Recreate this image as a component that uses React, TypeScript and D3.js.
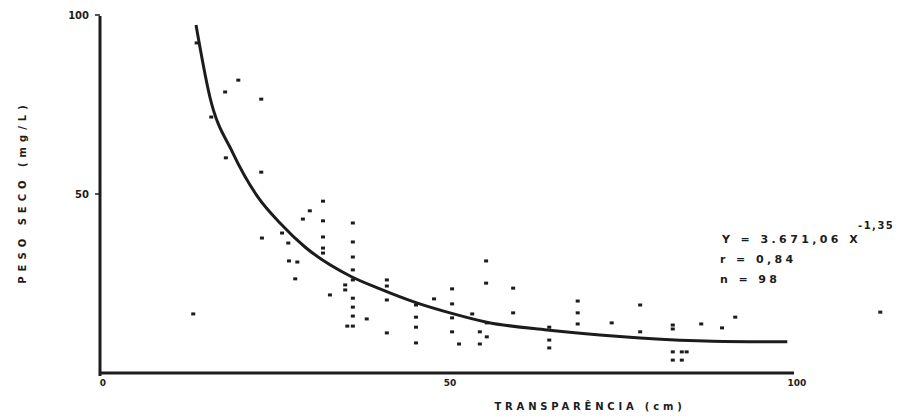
import { useRef, useEffect } from 'react';
import * as d3 from 'd3';

const WIDTH = 904;
const HEIGHT = 420;

// transparência (cm) vs peso seco (mg/L)
const transparencia = [
  13.5, 19.5, 17.6, 22.8, 15.6, 17.7, 22.8, 22.9, 26.7, 25.8, 26.8, 28.0, 27.7, 13.0,
  31.7, 29.8, 28.8, 31.7, 31.7, 31.7, 31.7, 36.0, 36.0, 36.0, 36.0, 36.0, 34.9, 34.9,
  32.7, 36.0, 36.0, 36.0, 35.2, 36.0, 38.0, 40.9, 40.9, 40.9, 40.9, 45.1, 45.1, 45.1,
  45.1, 47.7, 50.3, 50.3, 50.3, 50.3, 51.3, 53.2, 54.3, 54.3, 55.3, 55.2, 55.2, 55.3,
  59.1, 59.1, 64.3, 64.3, 64.3, 68.4, 68.4, 68.4, 73.3, 77.4, 77.4, 82.1, 82.1, 86.2,
  82.1, 83.4, 84.1, 82.1, 83.4, 89.2, 91.1, 112.0,
];
const pesoSeco = [
  92.2, 81.8, 78.5, 76.5, 71.5, 60.1, 56.1, 37.7, 36.3, 39.1, 31.3, 31.0, 26.3, 16.5,
  48.0, 45.3, 43.0, 42.5, 38.0, 34.9, 33.5, 41.9, 36.6, 32.4, 28.8, 26.0, 24.6, 23.2,
  21.8, 20.9, 18.4, 15.9, 13.1, 13.1, 15.1, 26.0, 24.3, 20.4, 11.2, 19.0, 15.6, 12.8,
  8.4, 20.7, 23.5, 19.3, 15.4, 11.5, 8.1, 16.5, 11.5, 8.1, 10.1, 31.3, 25.1, 14.0,
  23.7, 16.8, 12.8, 9.2, 7.0, 20.1, 16.8, 13.7, 14.0, 19.0, 11.5, 13.4, 12.3, 13.7,
  5.9, 5.9, 5.9, 3.6, 3.6, 12.6, 15.6, 17.0,
];

// fitted curve Y = 3.671,06 X^-1,35
const curveX = [13.4, 15.4, 18.7, 22.3, 25.5, 29.1, 35.6, 39.9, 45.2, 50.0, 55.3, 64.0, 71.6, 77.4, 87.9, 98.6];
const curveY = [97.2, 77.1, 61.5, 49.2, 41.9, 35.2, 27.1, 23.5, 19.6, 16.8, 14.2, 12.0, 10.6, 9.8, 8.9, 8.7];

const xTicks = [0, 50, 100];
const yTicks = [50, 100];
const legendLines = ['r = 0,84', 'n = 98'];

const INK = '#1c1c1c';
const FONT = '"DejaVu Sans", sans-serif';

export default function App() {
  const svgRef = useRef<SVGSVGElement>(null);

  useEffect(() => {
    if (!svgRef.current) return;
    const svg = d3.select(svgRef.current);
    svg.selectAll('*').remove();

    const x = d3.scaleLinear().domain([0, 100]).range([103, 797]);
    const y = d3.scaleLinear().domain([0, 100]).range([373, 15]);

    svg.append('rect').attr('width', WIDTH).attr('height', HEIGHT).attr('fill', '#fff');

    // ── Axes ────────────────────────────────────────────────────────────────
    svg.append('line')
      .attr('x1', x(0) - 3).attr('x2', x(0) - 3)
      .attr('y1', y(100) + 1).attr('y2', y(0) + 3)
      .attr('stroke', INK).attr('stroke-width', 3);

    svg.append('line')
      .attr('x1', x(0) - 3).attr('x2', x(100) - 3)
      .attr('y1', y(0)).attr('y2', y(0))
      .attr('stroke', INK).attr('stroke-width', 3);

    // small y ticks
    svg.append('g')
      .selectAll('line')
      .data(yTicks)
      .join('line')
      .attr('x1', x(0) - 8).attr('x2', x(0) - 3)
      .attr('y1', (d) => y(d)).attr('y2', (d) => y(d))
      .attr('stroke', INK).attr('stroke-width', 1.5);

    svg.append('g')
      .selectAll('text')
      .data(yTicks)
      .join('text')
      .attr('x', x(0) - 14)
      .attr('y', (d) => y(d) + 4)
      .attr('text-anchor', 'end')
      .attr('font-family', FONT).attr('font-weight', 'bold').attr('font-size', 10)
      .attr('fill', INK)
      .text((d) => `${d}`);

    svg.append('g')
      .selectAll('text')
      .data(xTicks)
      .join('text')
      .attr('x', (d) => x(d))
      .attr('y', y(0) + 13)
      .attr('text-anchor', 'middle')
      .attr('font-family', FONT).attr('font-weight', 'bold').attr('font-size', 9)
      .attr('fill', INK)
      .text((d) => `${d}`);

    // axis titles
    svg.append('text')
      .attr('transform', `translate(26,192) rotate(-90)`)
      .attr('text-anchor', 'middle')
      .attr('font-family', FONT).attr('font-weight', 'bold').attr('font-size', 10)
      .attr('letter-spacing', 5)
      .attr('fill', INK)
      .text('PESO  SECO  (mg/L)');

    svg.append('text')
      .attr('x', 590).attr('y', 410)
      .attr('text-anchor', 'middle')
      .attr('font-family', FONT).attr('font-weight', 'bold').attr('font-size', 10)
      .attr('letter-spacing', 3.8)
      .attr('fill', INK)
      .text('TRANSPARÊNCIA  (cm)');

    // ── Fitted curve ────────────────────────────────────────────────────────
    const line = d3.line<number>()
      .x((_, i) => x(curveX[i]))
      .y((_, i) => y(curveY[i]))
      .curve(d3.curveMonotoneX);

    svg.append('path')
      .datum(curveX)
      .attr('fill', 'none')
      .attr('stroke', INK)
      .attr('stroke-width', 3)
      .attr('d', line);

    // ── Points ──────────────────────────────────────────────────────────────
    svg.append('g')
      .selectAll('rect')
      .data(transparencia)
      .join('rect')
      .attr('x', (d) => x(d) - 2)
      .attr('y', (_, i) => y(pesoSeco[i]) - 1.5)
      .attr('width', 4)
      .attr('height', 3)
      .attr('fill', INK);

    // ── Equation ────────────────────────────────────────────────────────────
    const eq = svg.append('g')
      .attr('font-family', FONT).attr('font-weight', 'bold')
      .attr('fill', INK);

    eq.append('text')
      .attr('x', 722).attr('y', 243)
      .attr('font-size', 11).attr('letter-spacing', 3.4)
      .text('Y = 3.671,06 X');
    eq.append('text')
      .attr('x', 858).attr('y', 229)
      .attr('font-size', 10).attr('letter-spacing', 1.5)
      .text('-1,35');

    eq.selectAll('text.l')
      .data(legendLines)
      .join('text')
      .attr('class', 'l')
      .attr('x', 720)
      .attr('y', (_, i) => 263 + i * 20)
      .attr('font-size', 11).attr('letter-spacing', 3.4)
      .text((d) => d);
  }, []);

  return (
    <svg
      ref={svgRef}
      width={WIDTH}
      height={HEIGHT}
      style={{ position: 'absolute', left: 0, top: 0, display: 'block' }}
    />
  );
}
